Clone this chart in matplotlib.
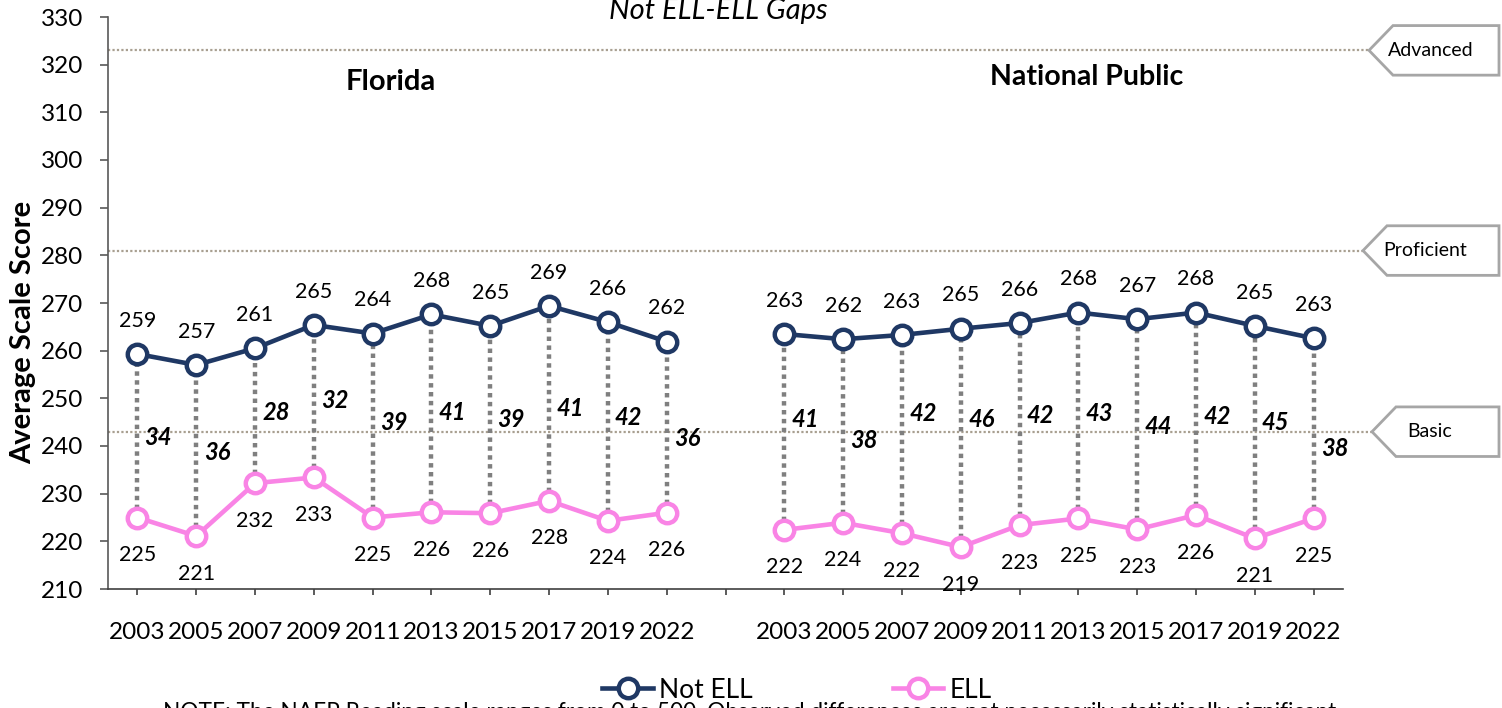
import matplotlib
matplotlib.use("Agg")
import matplotlib.pyplot as plt
from matplotlib.patches import Polygon
from matplotlib.lines import Line2D
import matplotlib.transforms as mtransforms

plt.rcParams['font.family'] = ['Lato', 'DejaVu Sans']

years = ["2003", "2005", "2007", "2009", "2011", "2013", "2015", "2017", "2019", "2022"]

# Florida
fl_not_ell = [259.3, 257.0, 260.5, 265.4, 263.6, 267.6, 265.2, 269.4, 266.0, 261.9]
fl_ell = [225.0, 221.1, 232.2, 233.4, 225.0, 226.1, 225.9, 228.5, 224.3, 226.0]
fl_not_ell_lbl = [259, 257, 261, 265, 264, 268, 265, 269, 266, 262]
fl_ell_lbl = [225, 221, 232, 233, 225, 226, 226, 228, 224, 226]
fl_gap = [34, 36, 28, 32, 39, 41, 39, 41, 42, 36]

# National Public
np_not_ell = [263.5, 262.4, 263.3, 264.6, 265.8, 268.0, 266.6, 268.0, 265.2, 262.6]
np_ell = [222.4, 223.9, 221.7, 218.8, 223.4, 224.8, 222.5, 225.5, 220.6, 224.8]
np_not_ell_lbl = [263, 262, 263, 265, 266, 268, 267, 268, 265, 263]
np_ell_lbl = [222, 224, 222, 219, 223, 225, 223, 226, 221, 225]
np_gap = [41, 38, 42, 46, 42, 43, 44, 42, 45, 38]

levels = [323, 281, 243]
level_names = ["Advanced", "Proficient", "Basic"]

# vertical nudges (points) of the gap labels around the midpoint
fl_gap_dy = [-1.4, -1.4, 2.2, 0.7, 2.2, 0.7, 0, -3.6, 2.9, -7.9]
np_gap_dy = [8.6, -6.5, 15.1, 13, 6.5, 1.4, -1.4, -2.2, 7.2, -14.4]

NAVY = "#1F3864"
PINK = "#F984E5"
GRAY = "#7F7F7F"

fig = plt.figure(figsize=(15.02, 7.08), dpi=100)
ax = fig.add_axes([108/1502, 1-589/708, (1343-108)/1502, (589-17)/708])

x_fl = list(range(0, 10))
x_np = list(range(11, 21))

# Reference level lines extending to the callouts
blend = mtransforms.blended_transform_factory(fig.transFigure, ax.transData)
pt_x = [1369/1502, 1363/1502, 1372/1502]
txt_x = [1431/1502, 1425/1502, 1430/1502]
for lv, name, px, tx in zip(levels, level_names, pt_x, txt_x):
    ax.plot([108/1502, px], [lv, lv], transform=blend, color="#A89F90",
            lw=1.6, ls=(0, (1, 1)), clip_on=False, zorder=1)
    hh = 5.2
    cx = px + 24/1502
    poly = Polygon([[px, lv], [cx, lv+hh], [1499/1502, lv+hh], [1499/1502, lv-hh], [cx, lv-hh]],
                   closed=True, transform=blend, facecolor="white", edgecolor="#A6A6A6",
                   lw=2, clip_on=False, zorder=5)
    fig.add_artist(poly)
    fig.text(tx, lv, name, transform=blend, ha="center", va="center",
             fontsize=14, zorder=6)

for xs, top, bot, tl, bl, gaps, gdy in [
        (x_fl, fl_not_ell, fl_ell, fl_not_ell_lbl, fl_ell_lbl, fl_gap, fl_gap_dy),
        (x_np, np_not_ell, np_ell, np_not_ell_lbl, np_ell_lbl, np_gap, np_gap_dy)]:
    for x, t, b, g, dy in zip(xs, top, bot, gaps, gdy):
        ax.plot([x, x], [b, t], color=GRAY, lw=3.2, ls=(0, (1, 1)), zorder=2)
        ax.annotate(str(g), (x, (t+b)/2), xytext=(15, dy), textcoords="offset points",
                    ha="center", va="center", fontsize=17, fontweight="bold",
                    fontstyle="italic", zorder=4)
    ax.plot(xs, top, color=NAVY, lw=3.3, marker="o", ms=14, mfc="white",
            mec=NAVY, mew=3.2, zorder=3)
    ax.plot(xs, bot, color=PINK, lw=3.3, marker="o", ms=14, mfc="white",
            mec=PINK, mew=3.2, zorder=3)
    for x, t, l in zip(xs, top, tl):
        ax.annotate(str(l), (x, t), xytext=(0, 24), textcoords="offset points",
                    ha="center", va="center", fontsize=15.5)
    for x, b, l in zip(xs, bot, bl):
        ax.annotate(str(l), (x, b), xytext=(0, -27), textcoords="offset points",
                    ha="center", va="center", fontsize=15.5)

ax.set_xlim(-0.5, 20.5)
ax.set_ylim(210, 330)
ax.set_yticks(range(210, 331, 10))
ax.set_xticks(list(range(21)))
ax.set_xticklabels(years + [""] + years)
ax.tick_params(axis="y", labelsize=17.5, length=6, width=1.2, pad=12, color="#595959")
ax.tick_params(axis="x", labelsize=17.5, length=4.5, width=1.2, pad=19, color="#404040")
for s in ["top", "right"]:
    ax.spines[s].set_visible(False)
ax.spines["left"].set_color("#595959")
ax.spines["left"].set_linewidth(1.2)
ax.spines["bottom"].set_color("#404040")
ax.spines["bottom"].set_linewidth(1.2)

fig.text(23/1502, 1-332/708, "Average Scale Score", rotation=90, ha="center",
         va="center", fontsize=21, fontweight="bold")
fig.text(391/1502, 1-82/708, "Florida", ha="center", va="center", fontsize=21, fontweight="bold")
fig.text(1087/1502, 1-77/708, "National Public", ha="center", va="center", fontsize=20.5,
         fontweight="bold")
fig.text(718/1502, 1-11/708, "Not ELL-ELL Gaps", ha="center", va="center", fontsize=21,
         fontstyle="italic")

handles = [Line2D([], [], color=NAVY, lw=3.3, marker="o", ms=14, mfc="white", mec=NAVY, mew=3.2),
           Line2D([], [], color=PINK, lw=3.3, marker="o", ms=14, mfc="white", mec=PINK, mew=3.2)]
fig.legend(handles, ["Not ELL", "ELL"], loc="center", bbox_to_anchor=(797/1502, 1-690/708),
           ncol=2, frameon=False, fontsize=19, handlelength=1.9, handletextpad=0.25,
           columnspacing=5.3, borderpad=0)

fig.text(163/1502, 1-702/708,
         "NOTE: The NAEP Reading scale ranges from 0 to 500. Observed differences are not necessarily statistically significant.",
         ha="left", va="top", fontsize=16.3)

fig.savefig("out.png", dpi=100)
